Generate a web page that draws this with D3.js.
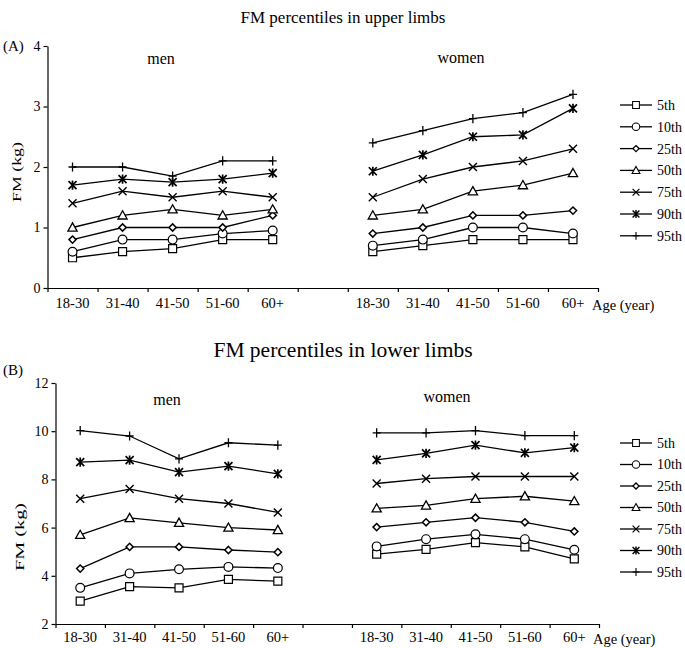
<!DOCTYPE html>
<html>
<head>
<meta charset="utf-8">
<script src="https://cdn.jsdelivr.net/npm/d3@7"></script>
<style>
  body { margin: 0; background: #fff; }
  svg text { font-family: "Liberation Serif", "Times New Roman", serif; fill: #000; }
</style>
</head>
<body>
<div id="chart"></div>
<script>
// age groups and percentile series
const ageGroups = ["18-30", "31-40", "41-50", "51-60", "60+"];
const percentiles = ["5th", "10th", "25th", "50th", "75th", "90th", "95th"];

// (A) upper limbs, FM in kg, one row per percentile
const upperMen = [
  [0.5, 0.6, 0.65, 0.8, 0.8],
  [0.6, 0.8, 0.8, 0.9, 0.95],
  [0.8, 1.0, 1.0, 1.0, 1.2],
  [1.0, 1.2, 1.3, 1.2, 1.3],
  [1.4, 1.6, 1.5, 1.6, 1.5],
  [1.7, 1.8, 1.75, 1.8, 1.9],
  [2.0, 2.0, 1.85, 2.1, 2.1]
];
const upperWomen = [
  [0.6, 0.7, 0.8, 0.8, 0.8],
  [0.7, 0.8, 1.0, 1.0, 0.9],
  [0.9, 1.0, 1.2, 1.2, 1.28],
  [1.2, 1.3, 1.6, 1.7, 1.9],
  [1.5, 1.8, 2.0, 2.1, 2.3],
  [1.93, 2.2, 2.5, 2.53, 2.97],
  [2.4, 2.6, 2.8, 2.9, 3.2]
];

// (B) lower limbs
const lowerMen = [
  [2.95, 3.55, 3.5, 3.85, 3.78],
  [3.5, 4.1, 4.27, 4.37, 4.32],
  [4.3, 5.2, 5.2, 5.07, 4.98],
  [5.7, 6.4, 6.2, 6.0, 5.9],
  [7.2, 7.6, 7.2, 7.0, 6.63],
  [8.72, 8.8, 8.3, 8.55, 8.23],
  [10.02, 9.8, 8.85, 9.52, 9.42]
];
const lowerWomen = [
  [4.9, 5.1, 5.38, 5.2, 4.7],
  [5.22, 5.52, 5.72, 5.52, 5.08],
  [6.02, 6.22, 6.41, 6.22, 5.84],
  [6.8, 6.92, 7.2, 7.3, 7.1],
  [7.83, 8.03, 8.12, 8.12, 8.12],
  [8.81, 9.08, 9.42, 9.1, 9.32],
  [9.93, 9.93, 10.02, 9.82, 9.82]
];

const upperTicks = [0, 1, 2, 3, 4];
const lowerTicks = [2, 4, 6, 8, 10, 12];

// marker glyphs, one per percentile
const markers = {
  "5th":  {d: "M-4,-4H4V4H-4Z", fill: "#fff", sw: 1.2},
  "10th": {d: "M4.4,0A4.4,4.4 0 1,1 -4.4,0A4.4,4.4 0 1,1 4.4,0Z", fill: "#fff", sw: 1.2},
  "25th": {d: "M0,-3.6L3.6,0L0,3.6L-3.6,0Z", fill: "#fff", sw: 1.5},
  "50th": {d: "M0,-4.6L4.6,3.6H-4.6Z", fill: "#fff", sw: 1.3},
  "75th": {d: "M-4,-4L4,4M-4,4L4,-4", fill: "none", sw: 1.4},
  "90th": {d: "M-4,-4L4,4M-4,4L4,-4M0,-4.6V4.6", fill: "none", sw: 1.7},
  "95th": {d: "M0,-4.6V4.6M-4,0H4", fill: "none", sw: 1.3}
};

const W = 685, H = 648;
const svg = d3.select("#chart").append("svg").attr("width", W).attr("height", H);

const panels = [
  {title: "FM percentiles in upper limbs", titleY: 23, titleSize: 17, tag: "(A)", tagY: 51,
   men: upperMen, women: upperWomen, domain: [0, 4], ticks: upperTicks,
   top: 46, bottom: 288, left: 47.5, right: 598, labelY: 310,
   yLabel: {x: 16, y: 172, len: 60}, menLab: [161, 64], womenLab: [461, 63], legendY: 105, legendStep: 21.8},
  {title: "FM percentiles in lower limbs", titleY: 357, titleSize: 21.5, tag: "(B)", tagY: 375,
   men: lowerMen, women: lowerWomen, domain: [2, 12], ticks: lowerTicks,
   top: 383, bottom: 624, left: 55.5, right: 599, labelY: 644,
   yLabel: {x: 19, y: 537, len: 68}, menLab: [167, 405], womenLab: [447, 402], legendY: 443, legendStep: 21.5}
];

panels.forEach(p => {
  const keys = ageGroups.map(a => "men|" + a).concat(["gap|"], ageGroups.map(a => "women|" + a));
  const x = d3.scaleBand().domain(keys).range([p.left, p.right]).padding(0);
  const xi = d3.scaleLinear().domain([0, keys.length]).range([p.left, p.right]);
  const y = d3.scaleLinear().domain(p.domain).range([p.bottom, p.top]);

  svg.append("text").attr("x", 343).attr("y", p.titleY).attr("text-anchor", "middle")
    .attr("font-size", p.titleSize).text(p.title);
  svg.append("text").attr("x", 3).attr("y", p.tagY).attr("font-size", 15).text(p.tag);

  // x axis: ticks on band boundaries
  const gx = svg.append("g").attr("transform", "translate(0," + p.bottom + ")");
  gx.call(d3.axisBottom(xi).tickValues(d3.range(keys.length + 1)).tickFormat("").tickSize(4).tickSizeOuter(0));
  gx.selectAll("line, path").attr("stroke", "#000").attr("stroke-width", 1.2);

  const gl = svg.append("g").attr("transform", "translate(0," + (p.labelY - 12) + ")");
  gl.call(d3.axisBottom(x).tickSize(0).tickPadding(0).tickFormat(k => k.split("|")[1]));
  gl.attr("font-family", null);
  gl.select(".domain").remove();
  gl.selectAll("text").attr("font-size", 14.5).attr("dy", "0.71em");

  svg.append("text").attr("x", p.right - 6).attr("y", p.labelY).attr("font-size", 14.5).text("Age (year)");

  // y axis
  const gy = svg.append("g").attr("transform", "translate(" + p.left + ",0)");
  gy.call(d3.axisLeft(y).tickValues(p.ticks).tickFormat(d3.format("d"))
    .tickSize(4).tickSizeOuter(0).tickPadding(3));
  gy.attr("font-family", null);
  gy.selectAll("line, path").attr("stroke", "#000").attr("stroke-width", 1.2);
  gy.selectAll("text").attr("font-size", 14);

  svg.append("text")
    .attr("transform", "translate(" + p.yLabel.x + "," + p.yLabel.y + ") rotate(-90)")
    .attr("text-anchor", "middle").attr("dy", "0.35em").attr("font-size", 13)
    .attr("textLength", p.yLabel.len).attr("lengthAdjust", "spacingAndGlyphs").text("FM (kg)");

  svg.append("text").attr("x", p.menLab[0]).attr("y", p.menLab[1]).attr("text-anchor", "middle")
    .attr("font-size", 16).text("men");
  svg.append("text").attr("x", p.womenLab[0]).attr("y", p.womenLab[1]).attr("text-anchor", "middle")
    .attr("font-size", 16).text("women");

  const line = d3.line().x(d => x(d.key) + x.bandwidth() / 2).y(d => y(d.v));

  [["men", p.men], ["women", p.women]].forEach(([sex, rows]) => {
    rows.forEach((vals, i) => {
      const pts = vals.map((v, j) => ({key: sex + "|" + ageGroups[j], v}));
      const m = markers[percentiles[i]];
      svg.append("path").datum(pts).attr("d", line)
        .attr("fill", "none").attr("stroke", "#000").attr("stroke-width", 1.3);
      svg.append("g").selectAll("path").data(pts).enter().append("path")
        .attr("transform", d => "translate(" + (x(d.key) + x.bandwidth() / 2) + "," + y(d.v) + ")")
        .attr("d", m.d).attr("fill", m.fill).attr("stroke", "#000").attr("stroke-width", m.sw);
    });
  });

  // legend
  const lg = svg.append("g");
  percentiles.forEach((pc, i) => {
    const yy = p.legendY + i * p.legendStep;
    const m = markers[pc];
    lg.append("line").attr("x1", 620).attr("x2", 652).attr("y1", yy).attr("y2", yy)
      .attr("stroke", "#000").attr("stroke-width", 1.3);
    lg.append("path").attr("transform", "translate(636," + yy + ") scale(0.85)")
      .attr("d", m.d).attr("fill", m.fill).attr("stroke", "#000").attr("stroke-width", m.sw);
    lg.append("text").attr("x", 657).attr("y", yy).attr("dy", "0.35em").attr("font-size", 14).text(pc);
  });
});
</script>
</body>
</html>
